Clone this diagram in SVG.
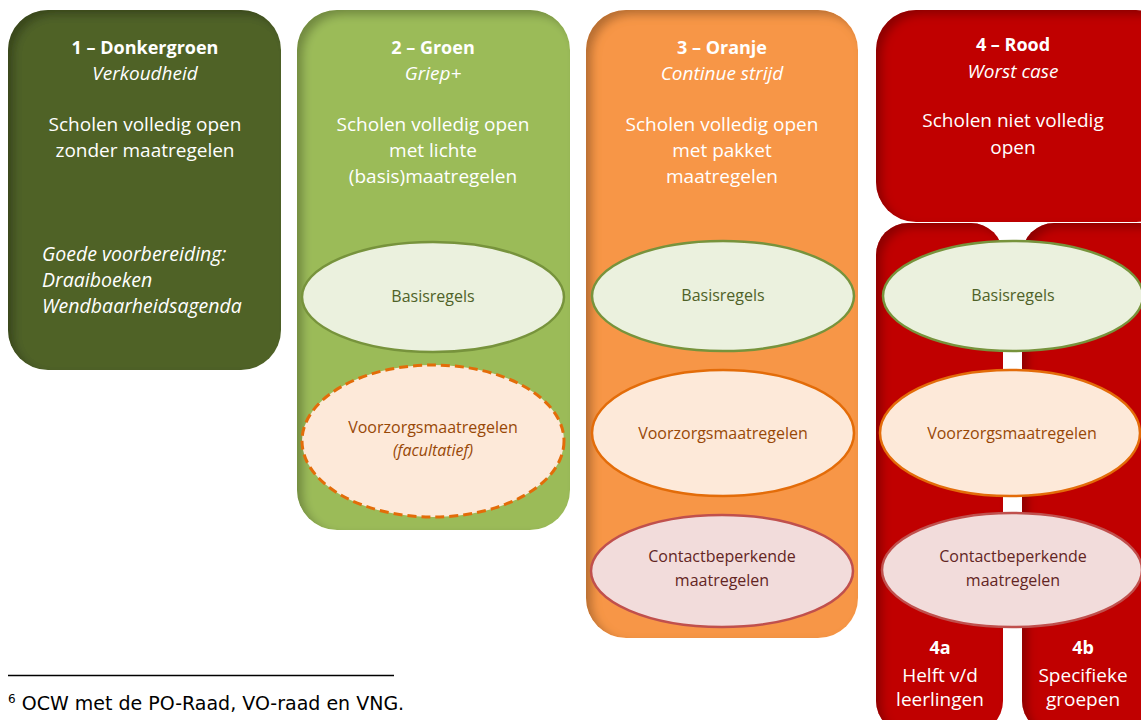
<svg xmlns="http://www.w3.org/2000/svg" width="1141" height="720" viewBox="0 0 1141 720">
<defs>
<filter id="inner" x="-10%" y="-10%" width="120%" height="120%">
<feGaussianBlur in="SourceAlpha" stdDeviation="5"/>
<feOffset dx="6" dy="5"/>
<feComposite operator="arithmetic" k2="-1" k3="1" in2="SourceAlpha" result="diff"/>
<feFlood flood-color="#000" flood-opacity="0.5"/>
<feComposite in2="diff" operator="in"/>
<feComposite in2="SourceGraphic" operator="over"/>
</filter>
<style>
.t{font-family:"Open Sans","Noto Sans",sans-serif;fill:#fff;text-anchor:middle}
.h{font-weight:bold;font-size:18px}
.i{font-style:italic;font-size:19px}
.b{font-size:19px}
.e{font-family:"Open Sans","Noto Sans",sans-serif;font-size:16px;text-anchor:middle}
.basis{fill:#EBF1DE;stroke:#77933C;stroke-width:2.5}
.voor{fill:#FDE9D9;stroke:#E36C09;stroke-width:2.5}
.cont{fill:#F2DCDB;stroke:#C0504D;stroke-width:2.5}
.gb{fill:#4F6228}
.ob{fill:#984807}
.rb{fill:#632523}
</style>
</defs>
<rect width="1141" height="720" fill="#fff"/>

<g id="box1">
<rect x="8" y="10" width="273" height="360" rx="40" fill="#4F6228" filter="url(#inner)"/>
<text class="t h" x="145" y="54">1 – Donkergroen</text>
<text class="t i" x="145" y="80">Verkoudheid</text>
<text class="t b" x="145" y="131">Scholen volledig open</text>
<text class="t b" x="145" y="157">zonder maatregelen</text>
<text class="t i" x="42" y="261" style="text-anchor:start;font-size:19.5px">Goede voorbereiding:</text>
<text class="t i" x="42" y="287" style="text-anchor:start;font-size:19.5px">Draaiboeken</text>
<text class="t i" x="42" y="313" style="text-anchor:start;font-size:19.5px">Wendbaarheidsagenda</text>
</g>

<g id="box2">
<rect x="297" y="10" width="273" height="520" rx="40" fill="#9BBB59" filter="url(#inner)"/>
<text class="t h" x="433" y="54">2 – Groen</text>
<text class="t i" x="433" y="80">Griep+</text>
<text class="t b" x="433" y="131">Scholen volledig open</text>
<text class="t b" x="433" y="157">met lichte</text>
<text class="t b" x="433" y="183">(basis)maatregelen</text>
</g>
<g id="box2-basis">
<ellipse class="basis" cx="433" cy="297" rx="131" ry="55"/>
<text class="e gb" x="433" y="302">Basisregels</text>
</g>
<g id="box2-voor">
<ellipse class="voor" cx="433" cy="441" rx="131" ry="76" stroke-dasharray="9,5" style="stroke-width:3"/>
<text class="e ob" x="433" y="433">Voorzorgsmaatregelen</text>
<text class="e ob" x="433" y="456" font-style="italic">(facultatief)</text>
</g>

<g id="box3">
<rect x="586" y="10" width="272" height="628" rx="40" fill="#F79646" filter="url(#inner)"/>
<text class="t h" x="722" y="54">3 – Oranje</text>
<text class="t i" x="722" y="80">Continue strijd</text>
<text class="t b" x="722" y="131">Scholen volledig open</text>
<text class="t b" x="722" y="157">met pakket</text>
<text class="t b" x="722" y="183">maatregelen</text>
</g>
<g id="box3-basis">
<ellipse class="basis" cx="723" cy="296" rx="131" ry="55"/>
<text class="e gb" x="723" y="301">Basisregels</text>
</g>
<g id="box3-voor">
<ellipse class="voor" cx="723" cy="433" rx="131" ry="63"/>
<text class="e ob" x="723" y="439">Voorzorgsmaatregelen</text>
</g>
<g id="box3-cont">
<ellipse class="cont" cx="722" cy="571" rx="131" ry="56"/>
<text class="e rb" x="722" y="562">Contactbeperkende</text>
<text class="e rb" x="722" y="586">maatregelen</text>
</g>

<g id="box4">
<rect x="876" y="10" width="300" height="212" rx="40" fill="#C00000" filter="url(#inner)"/>
<text class="t h" x="1013" y="51">4 – Rood</text>
<text class="t i" x="1013" y="78">Worst case</text>
<text class="t b" x="1013" y="127">Scholen niet volledig</text>
<text class="t b" x="1013" y="154">open</text>
</g>
<g id="box4a">
<rect x="876" y="223" width="127" height="510" rx="32" fill="#C00000" filter="url(#inner)"/>
<text class="t h" x="940" y="654">4a</text>
<text class="t b" x="940" y="682">Helft v/d</text>
<text class="t b" x="940" y="706">leerlingen</text>
</g>
<g id="box4b">
<rect x="1022" y="223" width="150" height="510" rx="32" fill="#C00000" filter="url(#inner)"/>
<text class="t h" x="1083" y="654">4b</text>
<text class="t b" x="1083" y="682">Specifieke</text>
<text class="t b" x="1083" y="706">groepen</text>
</g>
<g id="box4-basis">
<ellipse class="basis" cx="1013" cy="296" rx="130" ry="55"/>
<text class="e gb" x="1013" y="301">Basisregels</text>
</g>
<g id="box4-voor">
<ellipse class="voor" cx="1010" cy="433" rx="130" ry="63"/>
<text class="e ob" x="1012" y="439">Voorzorgsmaatregelen</text>
</g>
<g id="box4-cont">
<ellipse class="cont" cx="1012" cy="570" rx="130" ry="57"/>
<text class="e rb" x="1013" y="562">Contactbeperkende</text>
<text class="e rb" x="1013" y="586">maatregelen</text>
</g>

<g id="connectors"></g>

<g id="footnote">
<line x1="8" y1="675.5" x2="394" y2="675.5" stroke="#000" stroke-width="1.5"/>
<text x="8" y="710" font-family="'DejaVu Sans',Verdana,sans-serif" font-size="19" fill="#000"><tspan font-size="12" dy="-7">6</tspan><tspan dy="7"> OCW met de PO-Raad, VO-raad en VNG.</tspan></text>
</g>
</svg>
